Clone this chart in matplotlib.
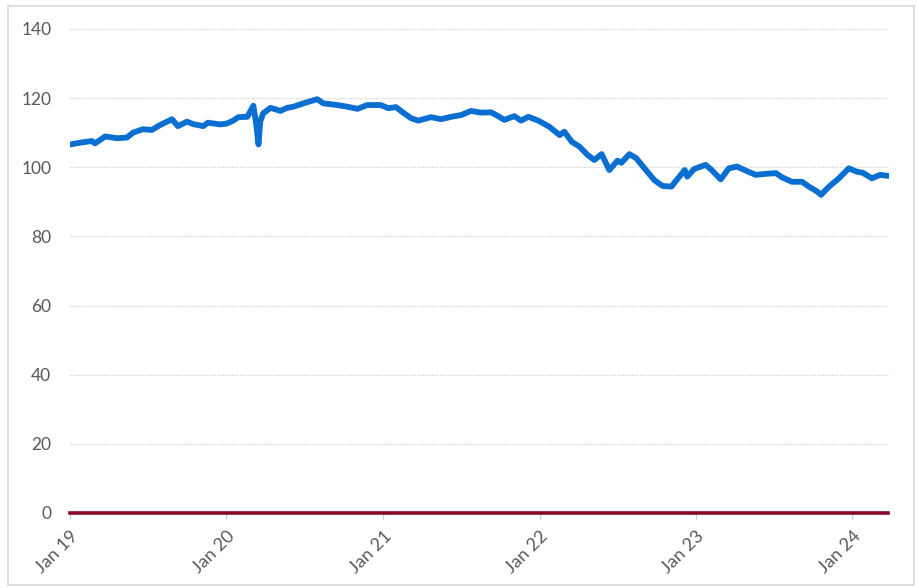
#!/usr/bin/env python3
"""Index line chart, Jan 2019 - Mar 2024."""

import matplotlib
matplotlib.use('Agg')
import matplotlib.pyplot as plt
import matplotlib.dates as mdates
import pandas as pd

# ── Data ───────────────────────────────────────────────────────────────────────
dates = [
    "2019-01-01", "2019-01-24", "2019-02-21", "2019-02-28", "2019-03-24",
    "2019-04-21", "2019-05-14", "2019-05-28", "2019-06-20", "2019-07-11",
    "2019-07-30", "2019-08-27", "2019-09-10", "2019-10-01", "2019-10-15",
    "2019-11-08", "2019-11-19", "2019-12-17", "2020-01-01", "2020-01-17",
    "2020-01-29", "2020-02-19", "2020-03-04", "2020-03-11", "2020-03-16",
    "2020-03-20", "2020-03-27", "2020-04-13", "2020-05-06", "2020-05-22",
    "2020-06-05", "2020-06-29", "2020-07-31", "2020-08-14", "2020-09-16",
    "2020-10-10", "2020-11-02", "2020-11-25", "2020-12-26", "2021-01-13",
    "2021-01-31", "2021-02-19", "2021-03-07", "2021-03-24", "2021-04-23",
    "2021-05-16", "2021-06-09", "2021-07-02", "2021-07-25", "2021-08-18",
    "2021-09-10", "2021-09-22", "2021-10-11", "2021-11-03", "2021-11-19",
    "2021-12-06", "2021-12-29", "2022-01-17", "2022-01-24", "2022-02-17",
    "2022-02-28", "2022-03-17", "2022-04-04", "2022-04-23", "2022-05-09",
    "2022-05-26", "2022-06-13", "2022-07-02", "2022-07-11", "2022-07-30",
    "2022-08-15", "2022-09-03", "2022-09-26", "2022-10-15", "2022-11-05",
    "2022-11-17", "2022-12-06", "2022-12-12", "2022-12-28", "2023-01-24",
    "2023-02-07", "2023-02-28", "2023-03-19", "2023-04-07", "2023-04-28",
    "2023-05-21", "2023-06-13", "2023-07-07", "2023-07-21", "2023-08-13",
    "2023-09-06", "2023-09-22", "2023-10-11", "2023-10-20", "2023-11-08",
    "2023-12-01", "2023-12-24", "2024-01-12", "2024-01-26", "2024-02-16",
    "2024-03-06", "2024-03-25",
]
index_values = [
    106.6, 107.1, 107.6, 106.9, 108.9,
    108.4, 108.6, 110.0, 111.0, 110.8,
    112.2, 113.9, 111.9, 113.2, 112.5,
    111.9, 112.9, 112.4, 112.6, 113.5,
    114.5, 114.6, 117.8, 112.2, 106.6,
    113.2, 115.6, 117.2, 116.3, 117.2,
    117.5, 118.5, 119.7, 118.5, 118.0,
    117.5, 116.9, 118.0, 118.0, 117.1,
    117.4, 115.6, 114.2, 113.5, 114.5,
    113.9, 114.6, 115.1, 116.3, 115.8,
    115.9, 115.1, 113.7, 114.8, 113.5,
    114.6, 113.5, 112.2, 111.7, 109.3,
    110.3, 107.4, 106.0, 103.6, 102.1,
    103.8, 99.2, 101.9, 101.3, 103.8,
    102.6, 99.7, 96.3, 94.6, 94.4,
    96.3, 99.2, 97.3, 99.5, 100.7,
    99.2, 96.5, 99.7, 100.2, 99.0,
    97.8, 98.1, 98.3, 97.1, 95.8,
    95.8, 94.4, 93.0, 92.0, 94.4,
    96.8, 99.7, 98.7, 98.4, 96.8,
    97.8, 97.5,
]
baseline = [0.0] * len(dates)

yticks = [0, 20, 40, 60, 80, 100, 120, 140]

# ── Colors ─────────────────────────────────────────────────────────────────────
BLUE   = "#0a6fd0"
MAROON = "#8a0a2c"
GRID   = "#c8c8c8"
TEXT   = "#595959"
BORDER = "#d9d9d9"

x = pd.to_datetime(dates)

plt.rcParams['font.family'] = ['Lato', 'DejaVu Sans']

fig = plt.figure(figsize=(9.19, 5.88), dpi=100, facecolor="white")
ax = fig.add_axes([0.0762, 0.1276, 0.8912, 0.8231])

ax.plot(x, index_values, color=BLUE, lw=4.2, solid_joinstyle="round", zorder=3)
ax.plot(x, baseline, color=MAROON, lw=2.6, zorder=4, clip_on=False)

ax.set_xlim(pd.Timestamp("2019-01-01"), pd.Timestamp("2024-03-27"))
ax.set_ylim(0, 140)
ax.set_yticks(yticks)
ax.yaxis.grid(True, color=GRID, linestyle=(0, (1, 1.5)), lw=0.8)
ax.set_axisbelow(True)

ax.xaxis.set_major_locator(mdates.YearLocator())
ax.xaxis.set_major_formatter(mdates.DateFormatter("Jan %y"))
for lbl in ax.get_xticklabels():
    lbl.set_rotation(45)
    lbl.set_ha("right")
    lbl.set_rotation_mode("anchor")

ax.tick_params(axis="y", length=0, pad=13.5, labelsize=12.5, labelcolor=TEXT)
ax.tick_params(axis="x", length=4, color=GRID, pad=7, labelsize=13, labelcolor=TEXT)

for side in ["top", "right", "left", "bottom"]:
    ax.spines[side].set_visible(False)

# chart border
fig.add_artist(plt.Rectangle((8 / 919, 3 / 588), 906 / 919, 579 / 588,
                             transform=fig.transFigure, fill=False,
                             edgecolor=BORDER, lw=1.2))

fig.savefig("out.png", dpi=100, facecolor="white")
plt.close()
